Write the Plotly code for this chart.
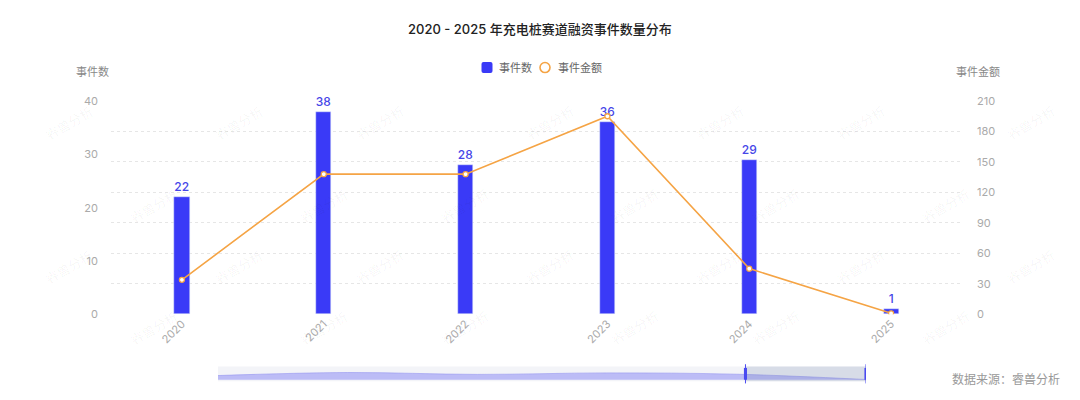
import plotly.graph_objects as go

years = ["2020", "2021", "2022", "2023", "2024", "2025"]
event_counts = [22, 38, 28, 36, 29, 1]
event_amounts = [34, 138, 138, 195, 45, 1]

title_text = "2020 - 2025 年充电桩赛道融资事件数量分布"
left_title = "事件数"
right_title = "事件金额"
source_text = "数据来源：睿兽分析"
watermark = "睿兽分析"

FONT = "Inter, Noto Sans CJK SC, sans-serif"
BAR = "#3a3af7"
LINE = "#f5a445"

OFF = 8  # browser default body margin
W, H = 1080 - OFF, 400 - OFF
T, B = 101 - OFF, 2
PH = H - T - B


def fy(py):
    return (H - B - (py - OFF)) / PH


def fx(px):
    return (px - OFF) / W


fig = go.Figure()

fig.add_trace(go.Bar(
    x=years, y=event_counts, name=left_title, marker_color=BAR,
    width=0.107, text=event_counts, textposition="outside",
    textfont=dict(color="#4646e8", size=12, family=FONT, weight=500),
    cliponaxis=False, showlegend=False, yaxis="y", xaxis="x"))

fig.add_trace(go.Scatter(
    x=years, y=event_amounts, name=right_title, mode="lines+markers",
    line=dict(color=LINE, width=1.6),
    marker=dict(size=5, color="white", line=dict(color=LINE, width=1.3)),
    showlegend=False, yaxis="y2", xaxis="x"))

# data-zoom preview
fig.add_trace(go.Scatter(
    x=list(range(len(years))), y=event_counts, mode="lines", fill="tozeroy",
    line=dict(color="rgba(150,150,240,0.6)", width=1, shape="spline"),
    fillcolor="rgba(170,170,245,0.75)", showlegend=False, hoverinfo="skip",
    xaxis="x2", yaxis="y3"))

annotations = [
    dict(text=title_text, x=fx(540), xref="paper", y=fy(28), yref="paper",
         showarrow=False, font=dict(size=13, color="#222", family=FONT, weight=500),
         xanchor="center", yanchor="middle"),
    dict(text=left_title, x=fx(92), xref="paper", y=fy(72), yref="paper",
         showarrow=False, font=dict(size=11, color="#888", family=FONT),
         xanchor="center", yanchor="middle"),
    dict(text=right_title, x=fx(978), xref="paper", y=fy(72), yref="paper",
         showarrow=False, font=dict(size=11, color="#888", family=FONT),
         xanchor="center", yanchor="middle"),
    dict(text=source_text, x=fx(1062), xref="paper", y=fy(384), yref="paper",
         showarrow=False, font=dict(size=12, color="#999", family=FONT),
         xanchor="right", yanchor="middle"),
    # legend texts
    dict(text=left_title, x=fx(497), xref="paper", y=fy(67), yref="paper",
         showarrow=False, font=dict(size=11, color="#666", family=FONT),
         xanchor="left", yanchor="middle"),
    dict(text=right_title, x=fx(556), xref="paper", y=fy(67), yref="paper",
         showarrow=False, font=dict(size=11, color="#666", family=FONT),
         xanchor="left", yanchor="middle"),
]

for ry, row_y in enumerate([100, 185, 270, 355]):
    offset = 0 if ry % 2 == 0 else 85
    for cx in range(40 + offset, 1100, 170):
        annotations.append(dict(
            text=watermark, x=fx(cx), xref="paper", y=fy(row_y), yref="paper",
            showarrow=False, textangle=-30,
            font=dict(size=13, color="rgba(0,0,0,0.045)", family=FONT)))

sel0, sel1 = 4.07, 5
shapes = [
    dict(type="rect", xref="x2 domain", yref="y3 domain", x0=0, x1=1, y0=0, y1=1,
         fillcolor="#f3f4f8", line=dict(width=0), layer="below"),
    dict(type="rect", xref="x2", yref="y3 domain", x0=sel0, x1=sel1, y0=0, y1=1,
         fillcolor="rgba(120,135,175,0.22)", line=dict(width=0), layer="above"),
    # legend symbols
    dict(type="path", xref="paper", yref="paper", xsizemode="pixel", ysizemode="pixel",
         xanchor=fx(487), yanchor=fy(67),
         path="M -3.5,-5.5 L 3.5,-5.5 Q 5.5,-5.5 5.5,-3.5 L 5.5,3.5 Q 5.5,5.5 3.5,5.5 "
              "L -3.5,5.5 Q -5.5,5.5 -5.5,3.5 L -5.5,-3.5 Q -5.5,-5.5 -3.5,-5.5 Z",
         fillcolor=BAR, line=dict(width=0)),
    dict(type="circle", xref="paper", yref="paper", xsizemode="pixel", ysizemode="pixel",
         xanchor=fx(545), yanchor=fy(67), x0=-5, x1=5, y0=-5, y1=5,
         fillcolor="white", line=dict(color=LINE, width=1.6)),
]
for hx in (sel0, sel1):
    shapes.append(dict(type="line", xref="x2", yref="y3 domain", x0=hx, x1=hx,
                       y0=-0.15, y1=1.15, line=dict(color="#4a4af0", width=1)))
    shapes.append(dict(type="rect", xref="x2", yref="y3 domain",
                       x0=hx - 0.012, x1=hx + 0.012, y0=0.1, y1=0.9,
                       fillcolor="#4a4af0", line=dict(width=0)))

fig.update_layout(
    width=W, height=H,
    margin=dict(l=0, r=0, t=T, b=B),
    paper_bgcolor="white", plot_bgcolor="white",
    font=dict(family=FONT, color="#999"),
    bargap=0,
    showlegend=False,
    xaxis=dict(domain=[fx(111), fx(962)], type="category", categoryorder="array",
               categoryarray=years, range=[-0.5, 5.5], showgrid=False,
               showline=False, zeroline=False, tickangle=-45,
               tickfont=dict(size=11, color="#aaa"), ticks="", anchor="y"),
    yaxis=dict(domain=[fy(318), fy(101)], range=[0, 40], dtick=10, showgrid=False,
               zeroline=False, showline=False, tickfont=dict(size=11, color="#aaa"),
               ticklabelstandoff=12, anchor="x"),
    yaxis2=dict(overlaying="y", side="right", range=[0, 210], dtick=30,
                showgrid=True, gridcolor="#e6e6e6", griddash="dot", gridwidth=1,
                zeroline=False, showline=False, tickfont=dict(size=11, color="#aaa"),
                ticklabelstandoff=14, anchor="x"),
    xaxis2=dict(domain=[fx(218), fx(866)], range=[0, 5], visible=False, anchor="y3"),
    yaxis3=dict(domain=[fy(386), fy(371)], range=[-8, 70], visible=False, anchor="x2"),
    annotations=annotations,
    shapes=shapes,
)

fig.write_html("out.html")
